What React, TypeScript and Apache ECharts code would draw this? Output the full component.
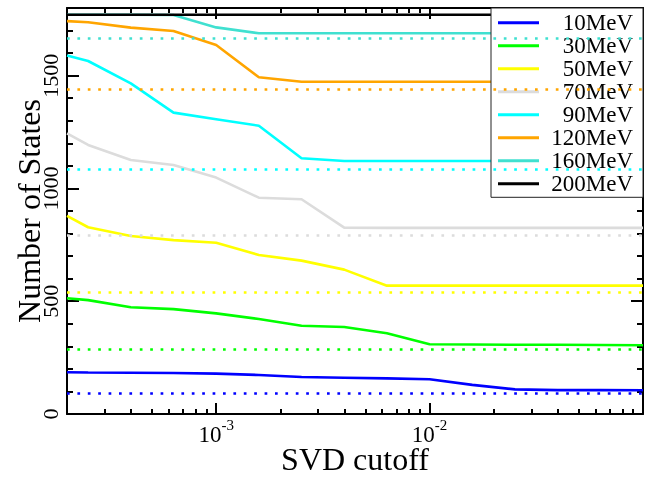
import React, { useEffect, useRef } from 'react';
import * as echarts from 'echarts';

// SVD cutoff values (x)
const cutoffs = [2e-4, 2.512e-4, 3.981e-4, 6.31e-4, 1e-3, 1.585e-3, 2.512e-3, 3.981e-3, 6.31e-3, 1e-2, 1.585e-2, 2.512e-2, 3.981e-2, 6.31e-2, 1e-1];

const seriesNames = ['10MeV', '30MeV', '50MeV', '70MeV', '90MeV', '120MeV', '160MeV', '200MeV'];
const seriesColors = ['#0000ff', '#00ff00', '#ffff00', '#dcdcdc', '#00ffff', '#ffa500', '#40e0d0', '#000000'];

const states10 = [185, 184, 183, 182, 179, 173, 164, 161, 158, 154, 129, 109, 106, 106, 105];
const states30 = [513, 505, 473, 465, 446, 421, 391, 386, 358, 309, 308, 307, 307, 306, 305];
const states50 = [878, 828, 789, 771, 759, 705, 680, 640, 569, 569, 569, 569, 569, 569, 569];
const states70 = [1244, 1193, 1126, 1104, 1048, 959, 952, 826, 825, 825, 825, 825, 825, 825, 825];
const states90 = [1589, 1565, 1466, 1336, 1307, 1278, 1134, 1122, 1122, 1122, 1122, 1122, 1122, 1122, 1122];
const states120 = [1742, 1737, 1713, 1698, 1636, 1493, 1473, 1473, 1473, 1473, 1473, 1473, 1473, 1473, 1473];
const states160 = [1770, 1770, 1770, 1769, 1714, 1688, 1688, 1688, 1688, 1688, 1688, 1688, 1688, 1687, 1687];
const states200 = [1770, 1770, 1770, 1770, 1770, 1770, 1770, 1770, 1770, 1770, 1770, 1770, 1770, 1770, 1770];

// dotted reference levels (same colour as the matching series)
const refLevels: (number | null)[] = [92, 285, 540, 792, 1085, 1438, 1666, null];

const xMajorTicks = [1e-3, 1e-2];
const yMajorTicks = [0, 500, 1000, 1500];
const xRange = [2e-4, 1e-1];
const yRange = [0, 1800];

const FONT = '"Liberation Serif", "Times New Roman", serif';

export default function App() {
  const ref = useRef<HTMLDivElement>(null);
  useEffect(() => {
    const chart = echarts.init(ref.current!, null, { renderer: 'svg' });
    const lg = (v: number) => Math.log10(v);
    const xMin = lg(xRange[0]);
    const xMax = lg(xRange[1]);
    const majorX = xMajorTicks.map(lg);
    const minorX: number[] = [];
    for (let e = -4; e <= -2; e++) for (let m = 2; m <= 9; m++) minorX.push(lg(m * Math.pow(10, e)));
    const minorY: number[] = [];
    for (let v = 100; v < yRange[1]; v += 100) if (v % 500 !== 0) minorY.push(v);

    const allStates = [states10, states30, states50, states70, states90, states120, states160, states200];

    const axisLine = (show: boolean) => ({ show, onZero: false, lineStyle: { color: '#000', width: 2 } });
    const tick = (vals: number[], len: number) => ({ show: true, inside: true, length: len, customValues: vals, lineStyle: { color: '#000', width: 2 } });

    const xBase = { type: 'value', min: xMin, max: xMax, splitLine: { show: false } };
    const yBase = { type: 'value', min: yRange[0], max: yRange[1], splitLine: { show: false } };

    chart.setOption({
      animation: false,
      grid: { left: 67, right: 11, top: 8, bottom: 68, containLabel: false, outerBoundsMode: 'none' },
      xAxis: [
        {
          ...xBase, position: 'bottom', axisLine: axisLine(true), axisTick: tick(majorX, 11),
          axisLabel: {
            customValues: majorX, margin: 4, color: '#000',
            formatter: (v: number) => `{b|10}{s|${Math.round(v)}}`,
            rich: {
              b: { fontFamily: FONT, fontSize: 23, color: '#000', lineHeight: 23, padding: [10, 0, 0, 0] },
              s: { fontFamily: FONT, fontSize: 15, color: '#000', lineHeight: 23, padding: [0, 0, 10, 0] },
            },
          },
          name: 'SVD cutoff', nameLocation: 'middle', nameGap: 29, nameMoveOverlap: false,
          nameTextStyle: { fontFamily: FONT, fontSize: 32, color: '#000' },
        },
        { ...xBase, position: 'bottom', axisLine: axisLine(false), axisTick: tick(minorX, 5), axisLabel: { show: false } },
        { ...xBase, position: 'top', axisLine: axisLine(true), axisTick: tick(majorX, 11), axisLabel: { show: false } },
        { ...xBase, position: 'top', axisLine: axisLine(false), axisTick: tick(minorX, 5), axisLabel: { show: false } },
      ],
      yAxis: [
        {
          ...yBase, position: 'left', axisLine: axisLine(true), axisTick: tick(yMajorTicks, 12),
          axisLabel: {
            customValues: yMajorTicks, rotate: 90, margin: 6, fontFamily: FONT, fontSize: 22, color: '#000',
            formatter: (v: number) => String(Math.round(v)),
          },
          name: 'Number of States', nameLocation: 'middle', nameGap: 22, nameMoveOverlap: false,
          nameTextStyle: { fontFamily: FONT, fontSize: 32, color: '#000' },
        },
        { ...yBase, position: 'left', axisLine: axisLine(false), axisTick: tick(minorY, 6), axisLabel: { show: false } },
        { ...yBase, position: 'right', axisLine: axisLine(true), axisTick: tick(yMajorTicks, 12), axisLabel: { show: false } },
        { ...yBase, position: 'right', axisLine: axisLine(false), axisTick: tick(minorY, 6), axisLabel: { show: false } },
      ],
      legend: {
        orient: 'vertical', left: 491, top: 8,
        padding: [3.3, 10, 2, 7], itemGap: 0, itemWidth: 41, itemHeight: 3, icon: 'rect',
        backgroundColor: '#fff', borderColor: '#222', borderWidth: 1, borderRadius: 0,
        selectedMode: false,
        data: seriesNames,
        formatter: '{a|{name}}',
        textStyle: {
          fontFamily: FONT, fontSize: 23, color: '#000',
          rich: { a: { fontFamily: FONT, fontSize: 23, color: '#000', width: 89, align: 'right', lineHeight: 22.7 } },
        },
      },
      series: seriesNames.map((name, i) => ({
        name,
        type: 'line',
        xAxisIndex: 0,
        yAxisIndex: 0,
        showSymbol: false,
        symbol: 'none',
        silent: true,
        color: seriesColors[i],
        itemStyle: { color: seriesColors[i] },
        lineStyle: { color: seriesColors[i], width: 2.6 },
        data: cutoffs.map((c, k) => [lg(c), allStates[i][k]]),
        markLine: refLevels[i] == null ? undefined : {
          silent: true,
          symbol: ['none', 'none'],
          label: { show: false },
          emphasis: { disabled: true },
          lineStyle: { color: seriesColors[i], width: 2.6, type: [2.7, 7.7], cap: 'butt' },
          data: [{ yAxis: refLevels[i] }],
        },
      })),
    });
    return () => chart.dispose();
  }, []);
  return <div ref={ref} style={{ position: 'fixed', left: 0, top: 0, width: 654, height: 482 }} />;
}
